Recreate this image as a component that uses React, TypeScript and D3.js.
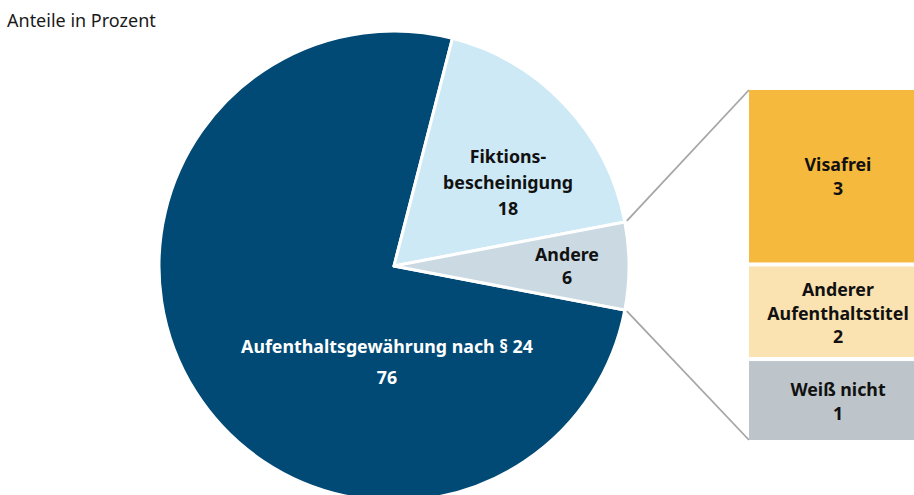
import React from "react";
import * as d3 from "d3";

const pieCategories = ["Aufenthaltsgewährung nach § 24", "Fiktionsbescheinigung", "Andere"];
const pieValues = [76, 18, 6];
const pieColors = ["#004A75", "#CDE9F5", "#CBD9E2"];

const barCategories = ["Visafrei", "Anderer Aufenthaltstitel", "Weiß nicht"];
const barLabels = ["3", "2", "1"];
const barValues = [2.95, 1.55, 1.35];
const barColors = ["#F5B93D", "#FAE3B0", "#BEC5CA"];

const W = 914;
const H = 495;
const cx = 394;
const cy = 266;
const R = 235;
const FONT = "'Noto Sans', 'Open Sans', sans-serif";

export default function App() {
  const andereFrac = pieValues[2] / d3.sum(pieValues);
  const start = Math.PI / 2 + andereFrac * Math.PI - 2 * Math.PI;
  const pie = d3.pie<number>().sort(null).startAngle(start).endAngle(start + 2 * Math.PI);
  const arcs = pie(pieValues);
  const arcGen = d3.arc<d3.PieArcDatum<number>>().innerRadius(0).outerRadius(R);

  const andere = arcs[2];
  const p1 = d3.pointRadial(andere.startAngle, R);
  const p2 = d3.pointRadial(andere.endAngle, R);

  const barX = 749;
  const barTop = 90;
  const barBottom = 440;
  const gap = 4;
  const total = d3.sum(barValues);
  const avail = barBottom - barTop - gap * (barValues.length - 1);
  const yScale = d3.scaleLinear().domain([0, total]).range([0, avail]);
  let acc = barTop;
  const bars = barValues.map((v, i) => {
    const h = yScale(v);
    const b = { y: acc, h, i };
    acc += h + gap;
    return b;
  });

  const pieLabels = [
    { x: 387, lines: [pieCategories[0], pieValues[0].toString()], y: 353, color: "#fff", lh: 31 },
    { x: 508, lines: ["Fiktions-", "bescheinigung", pieValues[1].toString()], y: 163, color: "#111", lh: 26 },
    { x: 567, lines: [pieCategories[2], pieValues[2].toString()], y: 261, color: "#111", lh: 23 },
  ];

  const barLabelLines = [
    [barCategories[0], barLabels[0]],
    ["Anderer", "Aufenthaltstitel", barLabels[1]],
    [barCategories[2], barLabels[2]],
  ];
  const barLabelY = [171, 296, 396];

  return (
    <svg width={W} height={H} style={{ position: "absolute", left: 0, top: 0, fontFamily: FONT }}>
      <rect width={W} height={H} fill="#fff" />
      <text x={7} y={27} fontSize={18} fill="#1a1a1a">Anteile in Prozent</text>
      <g transform={`translate(${cx},${cy})`}>
        {arcs.map((a, i) => (
          <path key={i} d={arcGen(a) || ""} fill={pieColors[i]} stroke="#fff" strokeWidth={3} strokeLinejoin="round" />
        ))}
      </g>
      <line x1={cx + p1[0] + 2} y1={cy + p1[1] - 1} x2={barX} y2={barTop} stroke="#A6A6A6" strokeWidth={1.8} />
      <line x1={cx + p2[0] + 2} y1={cy + p2[1] + 1} x2={barX} y2={barBottom} stroke="#A6A6A6" strokeWidth={1.8} />
      {bars.map((b) => (
        <rect key={b.i} x={barX} y={b.y} width={W - barX + 10} height={b.h} fill={barColors[b.i]} />
      ))}
      {pieLabels.map((l, i) =>
        l.lines.map((t, j) => (
          <text key={`${i}-${j}`} x={l.x} y={l.y + j * l.lh} textAnchor="middle" fontSize={17.8} fontWeight={700} fill={l.color}>
            {t}
          </text>
        ))
      )}
      {barLabelLines.map((lines, i) =>
        lines.map((t, j) => (
          <text key={`b${i}-${j}`} x={838} y={barLabelY[i] + j * 23.5} textAnchor="middle" fontSize={17.8} fontWeight={700} fill="#111">
            {t}
          </text>
        ))
      )}
    </svg>
  );
}
